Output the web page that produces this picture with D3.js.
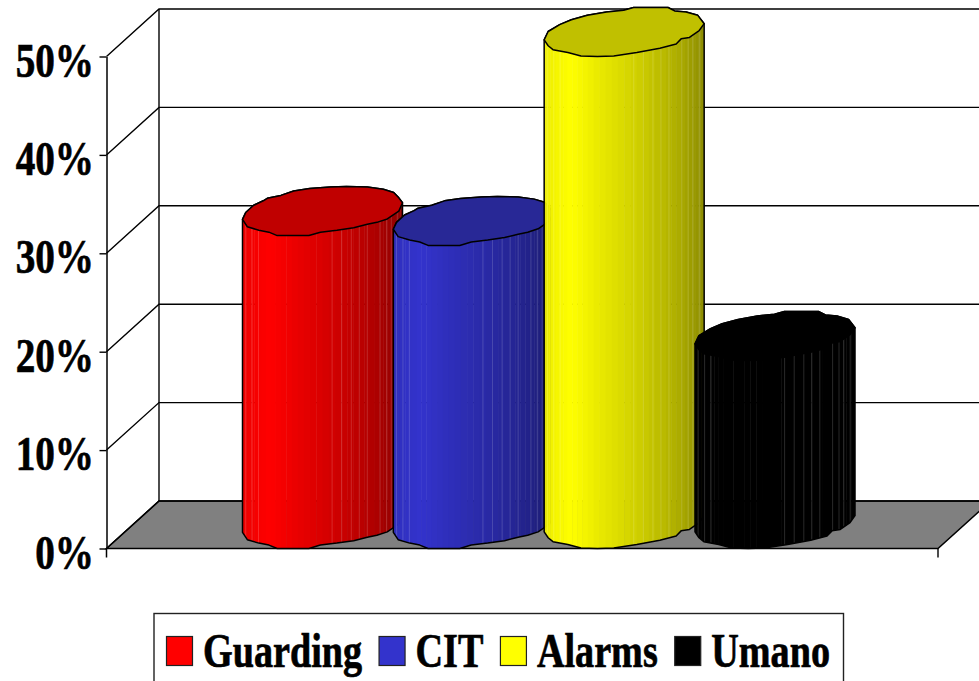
<!DOCTYPE html>
<html>
<head>
<meta charset="utf-8">
<script src="https://cdn.jsdelivr.net/npm/d3@7"></script>
<style>
html, body { margin: 0; padding: 0; background: #fff; overflow: hidden; }
svg { display: block; }
text { font-family: "Liberation Serif", serif; font-weight: bold; fill: #000; stroke: #000; stroke-width: 0.7px; }
</style>
</head>
<body>
<svg id="chart" width="979" height="681"></svg>
<script>
// Series
const categories = ["Guarding", "CIT", "Alarms", "Umano"];
const shares = [31.8, 30.8, 50, 19.1];
const bodyColors = ["#ff0000", "#3333cc", "#ffff00", "#000000"];
const capColors = ["#c00000", "#282896", "#c0c000", "#000000"];
const tickValues = [0, 10, 20, 30, 40, 50];

// Hand-cut outlines of the cylinder caps, as fractions of the cap's box.
// Order runs clockwise from the left extreme; rightIndex marks the right extreme.
const capOutlineA = [
  [0, .67], [.02, .53], [.07, .38], [.13, .29], [.155, .24], [.24, .18], [.32, .09], [.42, .04],
  [.55, .01], [.65, 0], [.78, .01], [.88, .055], [.945, .12], [.977, .23], [1, .33],
  [.977, .5], [.905, .66], [.84, .73], [.78, .77], [.695, .84], [.59, .89], [.487, .93],
  [.415, 1], [.3, 1], [.217, 1], [.165, .93], [.102, .89], [.03, .82]
];
const capOutlineB = [
  [0, .66], [.025, .49], [.097, .35], [.17, .25], [.27, .16], [.39, .09], [.497, .055],
  [.559, 0], [.64, 0], [.774, 0], [.815, .07], [.887, .09], [.96, .16], [1, .33],
  [.969, .47], [.908, .61], [.856, .64], [.825, .745], [.723, .83], [.579, .92], [.435, .99],
  [.333, 1], [.23, .99], [.148, .92], [.055, .86], [.025, .78]
];
const capOutlines = [capOutlineA, capOutlineA, capOutlineB, capOutlineB];

// Facet seams on the cylinder wall, as fractions of its width
const seams = [.02, .06, .10, .56, .62, .68, .73, .78, .86, .90, .93, .97];
// Brightness across the wall, left to right
const shadeStops = [.93, 1, .92, .85, .77, .68, .55];
const facetCount = 40;

const width = 979, height = 681;
const frontX = 106.5, backX = 159, rightFrontX = 938;
const depthX = backX - frontX, depthY = 47.5;
const capWidth = 160, capHeight = 49;
const tickSqueeze = 0.8, legendSqueeze = 0.795;

const svg = d3.select("#chart");
const y = d3.scaleLinear().domain([0, 50]).range([548.5, 56.5]);
const x = d3.scalePoint().domain(categories).range([242.5, 695]);
const shade = d3.scaleLinear().domain(d3.range(shadeStops.length).map(i => i / (shadeStops.length - 1))).range(shadeStops);
const line = d3.line();

// Floor
svg.append("path")
  .attr("d", line([[frontX, y(0)], [backX, y(0) - depthY], [rightFrontX + depthX, y(0) - depthY], [rightFrontX, y(0)]]) + "Z")
  .attr("fill", "#808080").attr("stroke", "#000").attr("stroke-width", 1.5);

// Gridlines along the side and back walls
const grid = svg.append("g").attr("stroke", "#000").attr("stroke-width", 1.4).attr("fill", "none");
tickValues.forEach(v => {
  grid.append("path").attr("d", line([[frontX, y(v)], [backX, y(v) - depthY], [width + 2, y(v) - depthY]]));
});
grid.append("path").attr("d", line([[backX, y(50) - depthY], [backX, y(0) - depthY]]));
grid.append("path").attr("d", line([[rightFrontX, y(0)], [rightFrontX, y(0) + 9]]));

// Value axis on the front edge of the side wall
const axis = svg.append("g")
  .attr("transform", `translate(${frontX},0)`)
  .call(d3.axisLeft(y).tickValues(tickValues).tickFormat(d => d + "%").tickSize(7).tickSizeOuter(0));
axis.select(".domain").attr("stroke", "#000").attr("stroke-width", 1.5);
axis.selectAll(".tick line").attr("stroke", "#000").attr("stroke-width", 1.4);
axis.selectAll(".tick text")
  .attr("x", -12.5 / tickSqueeze).attr("dy", "19.5px")
  .attr("transform", `scale(${tickSqueeze},1)`)
  .style("font-size", "49px");
axis.append("path").attr("d", line([[0, y(0)], [0, y(0) + 9]])).attr("stroke", "#000").attr("stroke-width", 1.5);

// Cylinders, drawn left to right so each one overlaps the previous
const defs = svg.append("defs");
categories.forEach((cat, i) => {
  const left = x(cat);
  const outline = capOutlines[i];
  const rightIndex = d3.maxIndex(outline, p => p[0]);
  const capTop = y(shares[i]) - capHeight;
  const px = d3.scaleLinear().domain([0, 1]).range([left, left + capWidth]);
  const py = d3.scaleLinear().domain([0, 1]).range([capTop, capTop + capHeight]);
  const drop = y(0) - y(shares[i]);
  const capPts = outline.map(p => [px(p[0]), py(p[1])]);
  const lowerArc = capPts.slice(rightIndex).concat([capPts[0]]).map(p => [p[0], p[1] + drop]);
  const bodyD = line(capPts.slice(0, rightIndex + 1).concat(lowerArc)) + "Z";

  const g = svg.append("g");
  const clipId = "body-" + i;
  defs.append("clipPath").attr("id", clipId).append("path").attr("d", bodyD);
  const wall = g.append("g").attr("clip-path", `url(#${clipId})`);

  // Facets get narrower towards the edges, as on a real cylinder
  const base = d3.rgb(bodyColors[i]);
  const edge = k => (1 - Math.cos(Math.PI * k / facetCount)) / 2;
  wall.selectAll("rect").data(d3.range(facetCount)).join("rect")
    .attr("x", k => px(edge(k)))
    .attr("width", k => px(edge(k + 1)) - px(edge(k)) + 0.5)
    .attr("y", capTop).attr("height", drop + capHeight)
    .attr("fill", k => {
      const f = shade((edge(k) + edge(k + 1)) / 2);
      return d3.rgb(base.r * f, base.g * f, base.b * f).toString();
    });
  wall.selectAll("line").data(seams).join("line")
    .attr("x1", d => px(d)).attr("x2", d => px(d))
    .attr("y1", capTop).attr("y2", capTop + capHeight + drop)
    .attr("stroke", "#fff").attr("stroke-opacity", 0.16).attr("stroke-width", 1);

  g.append("path").attr("d", bodyD).attr("fill", "none")
    .attr("stroke", "#000").attr("stroke-width", 1.5).attr("stroke-linejoin", "round");
  g.append("path").attr("d", line(capPts) + "Z").attr("fill", capColors[i])
    .attr("stroke", "#000").attr("stroke-width", 1.5).attr("stroke-linejoin", "round");
});

// Legend; its box runs off the bottom of the page
svg.append("rect").attr("x", 154).attr("y", 613.5).attr("width", 689.5).attr("height", 90)
  .attr("fill", "#fff").attr("stroke", "#222").attr("stroke-width", 1.4);
const swatchSize = 27;
let cursor = 166.5;
categories.forEach((cat, i) => {
  svg.append("rect").attr("x", cursor).attr("y", 636.5).attr("width", swatchSize - 1).attr("height", 29)
    .attr("fill", bodyColors[i]).attr("stroke", "#222").attr("stroke-width", 1.2);
  const label = svg.append("text")
    .attr("transform", `translate(${cursor + swatchSize + 9.5},667) scale(${legendSqueeze},1)`)
    .style("font-size", "48px").text(cat);
  cursor += swatchSize + 9.5 + label.node().getComputedTextLength() * legendSqueeze + 17;
});
</script>
</body>
</html>
